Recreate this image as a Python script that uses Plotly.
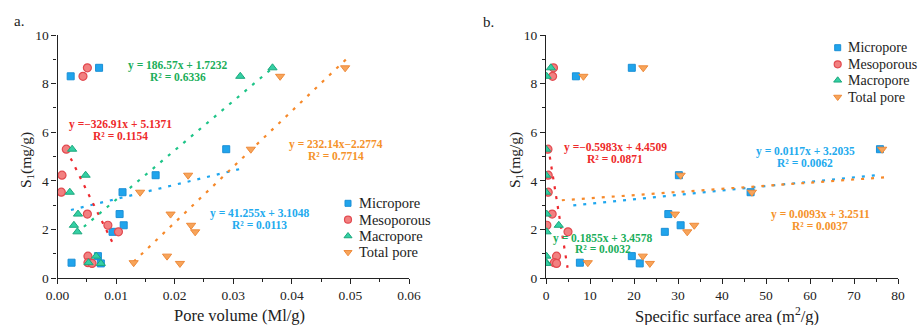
import plotly.graph_objects as go

# ---------------- data ----------------
s1 = [8.65, 8.30, 5.30, 4.23, 3.53, 2.63, 2.17, 1.90, 0.90, 0.63, 0.60]

# Panel a: pore volume (ml/g)
pv_micro = [0.0071, 0.00225, 0.0288, 0.01675, 0.0111, 0.0106, 0.0113, 0.0094, 0.0069, 0.0024, 0.0074]
pv_meso = [0.0051, 0.00435, 0.0015, 0.00077, 0.00065, 0.0051, 0.0086, 0.0104, 0.0052, 0.0052, 0.0059]
pv_macro = [0.0367, 0.0312, 0.0025, 0.0048, 0.0021, 0.0035, 0.0028, 0.0034, 0.0066, 0.0053, 0.0074]
pv_total = [0.0491, 0.0380, 0.0330, 0.0223, 0.0141, 0.0193, 0.0228, 0.0235, 0.0187, 0.0130, 0.0209]

# Panel b: specific surface area (m2/g)
sa_micro = [19.5, 6.8, 75.9, 30.2, 46.5, 27.8, 30.6, 27.0, 19.5, 7.7, 21.3]
sa_meso = [1.7, 1.5, 0.45, 0.5, 0.5, 1.4, 0.2, 5.0, 2.4, 1.9, 2.4]
sa_macro = [1.1, 0.15, 0.0, 0.0, 0.0, 0.15, 2.9, 0.15, 0.1, 0.1, 0.05]
sa_total = [22.1, 8.5, 76.4, 30.6, 46.8, 29.3, 33.7, 32.1, 22.0, 9.5, 23.6]

# trendline end points as drawn (x pair, y pair)
tl_a_micro = ([0.0023, 0.0314], [2.80, 4.50])
tl_a_meso = ([0.0015, 0.0098], [5.29, 1.26])
tl_a_macro = ([0.0045, 0.0367], [2.11, 8.64])
tl_a_total = ([0.0130, 0.0497], [0.67, 9.10])
tl_b_micro = ([6.2, 76.0], [2.99, 4.25])
tl_b_meso = ([0.5, 4.9], [5.40, 0.42])
tl_b_total = ([3.6, 78.3], [3.20, 4.16])

series_names = ["Micropore", "Mesoporous", "Macropore", "Total pore"]

eq_a = [
    ("y = 186.57x + 1.7232", "R² = 0.6336", 0.0206, 8.74, 8.29, "#1aae5a"),
    ("y =−326.91x + 5.1371", "R² = 0.1154", 0.0107, 6.33, 5.85, "#ee2a2a"),
    ("y = 232.14x−2.2774", "R² = 0.7714", 0.0475, 5.51, 5.03, "#f5922a"),
    ("y = 41.255x + 3.1048", "R² = 0.0113", 0.03456, 2.66, 2.18, "#22aaee"),
]
eq_b = [
    ("y =−0.5983x + 4.4509", "R² = 0.0871", 15.7, 5.38, 4.89, "#ee2a2a"),
    ("y = 0.0117x + 3.2035", "R² = 0.0062", 58.9, 5.21, 4.75, "#22aaee"),
    ("y = 0.0093x + 3.2511", "R² = 0.0037", 62.3, 2.62, 2.12, "#f5922a"),
    ("y = 0.1855x + 3.4578", "R² = 0.0032", 13.0, 1.64, 1.18, "#1aae5a"),
]

# legend layout (pixel positions in the 919x325 page)
legend_a = dict(marker_x=348, text_x=357, rows=[203.3, 219.7, 236.0, 252.3], size=14.5)
legend_b = dict(marker_x=837.7, text_x=846, rows=[47.7, 64.3, 80.3, 97.0], size=14)

# ---------------- styles ----------------
marker_styles = [
    dict(symbol="square", color="#20a4ec", size=7, line=dict(color="#1a8fd6", width=1)),
    dict(symbol="circle", color="#f28080", size=8, line=dict(color="#e24a50", width=1.2)),
    dict(symbol="triangle-up", color="#34cfa4", size=8, line=dict(color="#1aa87c", width=1)),
    dict(symbol="triangle-down", color="#f7a45a", size=8, line=dict(color="#ee8a3a", width=1)),
]
legend_marker_styles = [
    dict(symbol="square", color="#20a4ec", size=6, line=dict(color="#1a8fd6", width=1)),
    dict(symbol="circle", color="#f28080", size=7, line=dict(color="#e24a50", width=1.2)),
    dict(symbol="triangle-up", color="#34cfa4", size=7, line=dict(color="#1aa87c", width=1)),
    dict(symbol="triangle-down", color="#f7a45a", size=7, line=dict(color="#ee8a3a", width=1)),
]
line_colors = ["#1ea6ee", "#ee2a30", "#1ec488", "#f6892a"]
FONT = "Liberation Serif"
TXT = "#222222"

fig = go.Figure()


def add_points(xs, xa, ya):
    for name, x, ms in zip(series_names, xs, marker_styles):
        fig.add_trace(go.Scatter(x=x, y=s1, mode="markers", name=name, marker=ms,
                                 xaxis=xa, yaxis=ya, showlegend=False))


def add_line(tl, color, xa, ya):
    fig.add_trace(go.Scatter(x=tl[0], y=tl[1], mode="lines",
                             line=dict(color=color, width=2.2, dash="3px,7px"),
                             xaxis=xa, yaxis=ya, showlegend=False, hoverinfo="skip"))


add_line(tl_a_micro, line_colors[0], "x", "y")
add_line(tl_a_meso, line_colors[1], "x", "y")
add_line(tl_a_macro, line_colors[2], "x", "y")
add_line(tl_a_total, line_colors[3], "x", "y")
add_line(tl_b_micro, line_colors[0], "x2", "y2")
add_line(tl_b_total, line_colors[3], "x2", "y2")
add_line(tl_b_meso, line_colors[1], "x2", "y2")

add_points([pv_micro, pv_meso, pv_macro, pv_total], "x", "y")
add_points([sa_micro, sa_meso, sa_macro, sa_total], "x2", "y2")

annotations = []
for eqs, xr, yr in [(eq_a, "x", "y"), (eq_b, "x2", "y2")]:
    for l1, l2, x, y1, y2, c in eqs:
        for txt, yy in [(l1, y1), (l2, y2)]:
            annotations.append(dict(x=x, y=yy, xref=xr, yref=yr, text="<b>%s</b>" % txt,
                                    showarrow=False, font=dict(family=FONT, size=11.5, color=c),
                                    xanchor="center", yanchor="middle"))

# manual legends (overlay pixel axis x3/y3)
for lg in (legend_a, legend_b):
    for name, ms, row in zip(series_names, legend_marker_styles, lg["rows"]):
        fig.add_trace(go.Scatter(x=[lg["marker_x"]], y=[row], mode="markers", marker=ms,
                                 xaxis="x3", yaxis="y3", showlegend=False, hoverinfo="skip"))
        annotations.append(dict(x=lg["text_x"], y=row, xref="x3", yref="y3", text=name,
                                showarrow=False, font=dict(family=FONT, size=lg["size"], color=TXT),
                                xanchor="left", yanchor="middle"))

annotations += [
    dict(x=19, y=21, xref="x3", yref="y3", text="a.", showarrow=False,
         font=dict(family=FONT, size=15, color=TXT), xanchor="center", yanchor="middle"),
    dict(x=488, y=22, xref="x3", yref="y3", text="b.", showarrow=False,
         font=dict(family=FONT, size=15, color=TXT), xanchor="center", yanchor="middle"),
    dict(x=26, y=160, xref="x3", yref="y3", text="S<sub>1</sub>(mg/g)",
         showarrow=False, textangle=-90, font=dict(family=FONT, size=15.5, color=TXT),
         xanchor="center", yanchor="middle"),
    dict(x=515, y=160, xref="x3", yref="y3", text="S<sub>1</sub>(mg/g)",
         showarrow=False, textangle=-90, font=dict(family=FONT, size=15.5, color=TXT),
         xanchor="center", yanchor="middle"),
    dict(x=239, y=315, xref="x3", yref="y3", text="Pore volume (Ml/g)",
         showarrow=False, font=dict(family=FONT, size=16.5, color=TXT),
         xanchor="center", yanchor="middle"),
    dict(x=727, y=315, xref="x3", yref="y3",
         text="Specific surface area (m<sup>2</sup>/g)",
         showarrow=False, font=dict(family=FONT, size=16.5, color=TXT),
         xanchor="center", yanchor="middle"),
]

y0 = (325 - 278) / 325
y1 = (325 - 35) / 325
axis_common = dict(showgrid=False, zeroline=False, showline=True, linecolor=TXT, linewidth=1.2,
                   ticks="outside", ticklen=5, tickwidth=1.2, tickcolor=TXT, automargin=False,
                   tickfont=dict(family=FONT, size=13.5, color=TXT))

fig.update_layout(
    width=919, height=325, margin=dict(l=0, r=0, t=0, b=0, autoexpand=False),
    paper_bgcolor="white", plot_bgcolor="rgba(0,0,0,0)",
    xaxis=dict(domain=[57.5 / 919, 409 / 919], range=[0, 0.06], dtick=0.01, tickformat=".2f",
               minor=dict(ticks="outside", ticklen=3, dtick=0.005, tickcolor=TXT),
               anchor="y", **axis_common),
    yaxis=dict(domain=[y0, y1], range=[0, 10], dtick=2,
               minor=dict(ticks="outside", ticklen=3, dtick=1, tickcolor=TXT),
               anchor="x", **axis_common),
    xaxis2=dict(domain=[546 / 919, 898 / 919], range=[0, 80], dtick=10,
                minor=dict(ticks="outside", ticklen=3, dtick=5, tickcolor=TXT),
                anchor="y2", **axis_common),
    yaxis2=dict(domain=[y0, y1], range=[0, 10], dtick=2,
                minor=dict(ticks="outside", ticklen=3, dtick=1, tickcolor=TXT),
                anchor="x2", **axis_common),
    xaxis3=dict(domain=[0, 1], range=[0, 919], visible=False, fixedrange=True, automargin=False),
    yaxis3=dict(domain=[0, 1], range=[325, 0], visible=False, fixedrange=True, anchor="x3",
                automargin=False),
    annotations=annotations,
    showlegend=False,
)

fig.write_html("out.html", config={"responsive": False, "displayModeBar": False},
               post_script="document.body.style.margin='0';document.body.style.overflow='hidden';")
